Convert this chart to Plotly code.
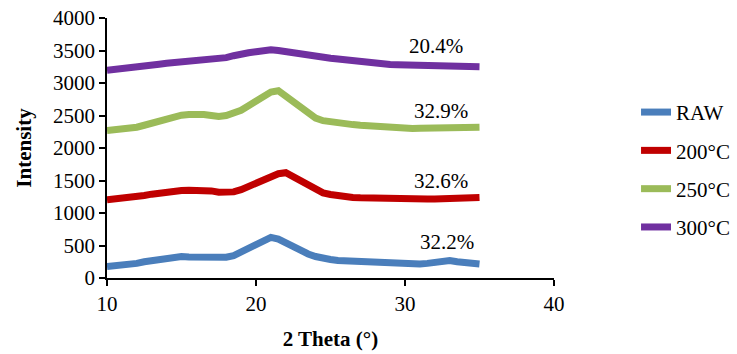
import plotly.graph_objects as go

two_theta = [10 + 0.5 * i for i in range(51)]

raw = [175, 185, 190, 205, 225, 250, 270, 290, 310, 325, 330, 325, 320, 315, 310, 305, 320, 345, 400, 460,
       520, 585, 625, 600, 540, 470, 420, 370, 330, 300, 285, 270, 265, 260, 250, 240, 235, 225, 215, 210,
       205, 210, 215, 225, 240, 265, 270, 250, 235, 225, 215]
t200 = [1205, 1215, 1220, 1225, 1245, 1270, 1290, 1310, 1325, 1335, 1345, 1350, 1355, 1360, 1340, 1320, 1310, 1325, 1360, 1410,
        1460, 1520, 1580, 1605, 1620, 1560, 1480, 1410, 1350, 1310, 1285, 1265, 1250, 1240, 1235, 1230, 1225, 1225, 1220, 1215,
        1215, 1210, 1210, 1215, 1215, 1220, 1225, 1230, 1240, 1245, 1240]
t250 = [2270, 2280, 2290, 2300, 2320, 2350, 2380, 2420, 2460, 2490, 2505, 2515, 2520, 2515, 2500, 2485, 2500, 2540, 2580, 2650,
        2730, 2800, 2860, 2880, 2800, 2710, 2610, 2530, 2460, 2420, 2400, 2380, 2370, 2360, 2350, 2340, 2330, 2320, 2315, 2305,
        2300, 2300, 2305, 2310, 2310, 2315, 2320, 2320, 2325, 2325, 2320]
t300 = [3195, 3205, 3215, 3230, 3245, 3260, 3275, 3290, 3305, 3315, 3325, 3335, 3340, 3350, 3360, 3370, 3390, 3420, 3450, 3465,
        3480, 3500, 3510, 3500, 3480, 3460, 3445, 3425, 3410, 3395, 3380, 3370, 3355, 3345, 3335, 3320, 3310, 3295, 3285, 3280,
        3275, 3270, 3268, 3265, 3262, 3260, 3258, 3255, 3255, 3250, 3250]

series_names = ["RAW", "200°C", "250°C", "300°C"]
series_values = [raw, t200, t250, t300]
colors = ["#4A7EBB", "#C00000", "#9BBB59", "#7030A0"]

labels = ["32.2%", "32.6%", "32.9%", "20.4%"]
label_x = [32.8, 32.4, 32.4, 32.05]
label_y = [561, 1500, 2577, 3577]

FONT = "Liberation Serif"

fig = go.Figure()
for name, vals, col in zip(series_names, series_values, colors):
    fig.add_trace(go.Scatter(x=two_theta, y=vals, mode="lines", name=name,
                             legendgroup=name,
                             line=dict(color=col, width=7)))

for t, lx, ly in zip(labels, label_x, label_y):
    fig.add_annotation(x=lx, y=ly, text=t, showarrow=False,
                       font=dict(family=FONT, size=21, color="#000000"))

fig.update_layout(
    width=737, height=354,
    margin=dict(l=107, r=183, t=18, b=76, autoexpand=False),
    paper_bgcolor="white", plot_bgcolor="white",
    font=dict(family=FONT, size=21, color="#000000"),
    showlegend=True,
    legend=dict(xref="container", yref="container", x=0.863, y=0.52,
                xanchor="left", yanchor="middle",
                tracegroupgap=8, font=dict(family=FONT, size=21),
                bgcolor="rgba(0,0,0,0)"),
    xaxis=dict(range=[10, 40], dtick=10, tick0=10, showgrid=False, zeroline=False,
               showline=True, linecolor="#000000", linewidth=1.5, automargin=False,
               ticks="outside", ticklen=6, tickcolor="#000000", tickwidth=1.5,
               ticklabeloverflow="allow",
               title=dict(text="<b>2 Theta (°)</b>", standoff=16,
                          font=dict(family=FONT, size=21))),
    yaxis=dict(range=[0, 4000], dtick=500, showgrid=False, zeroline=False,
               showline=True, linecolor="#000000", linewidth=1.5, automargin=False,
               ticks="outside", ticklen=6, tickcolor="#000000", tickwidth=1.5,
               ticklabeloverflow="allow",
               title=dict(text="<b>Intensity</b>", standoff=16,
                          font=dict(family=FONT, size=21))),
)

fig.write_html("out.html", config={"displayModeBar": False},
               post_script="document.body.style.margin='0';")
